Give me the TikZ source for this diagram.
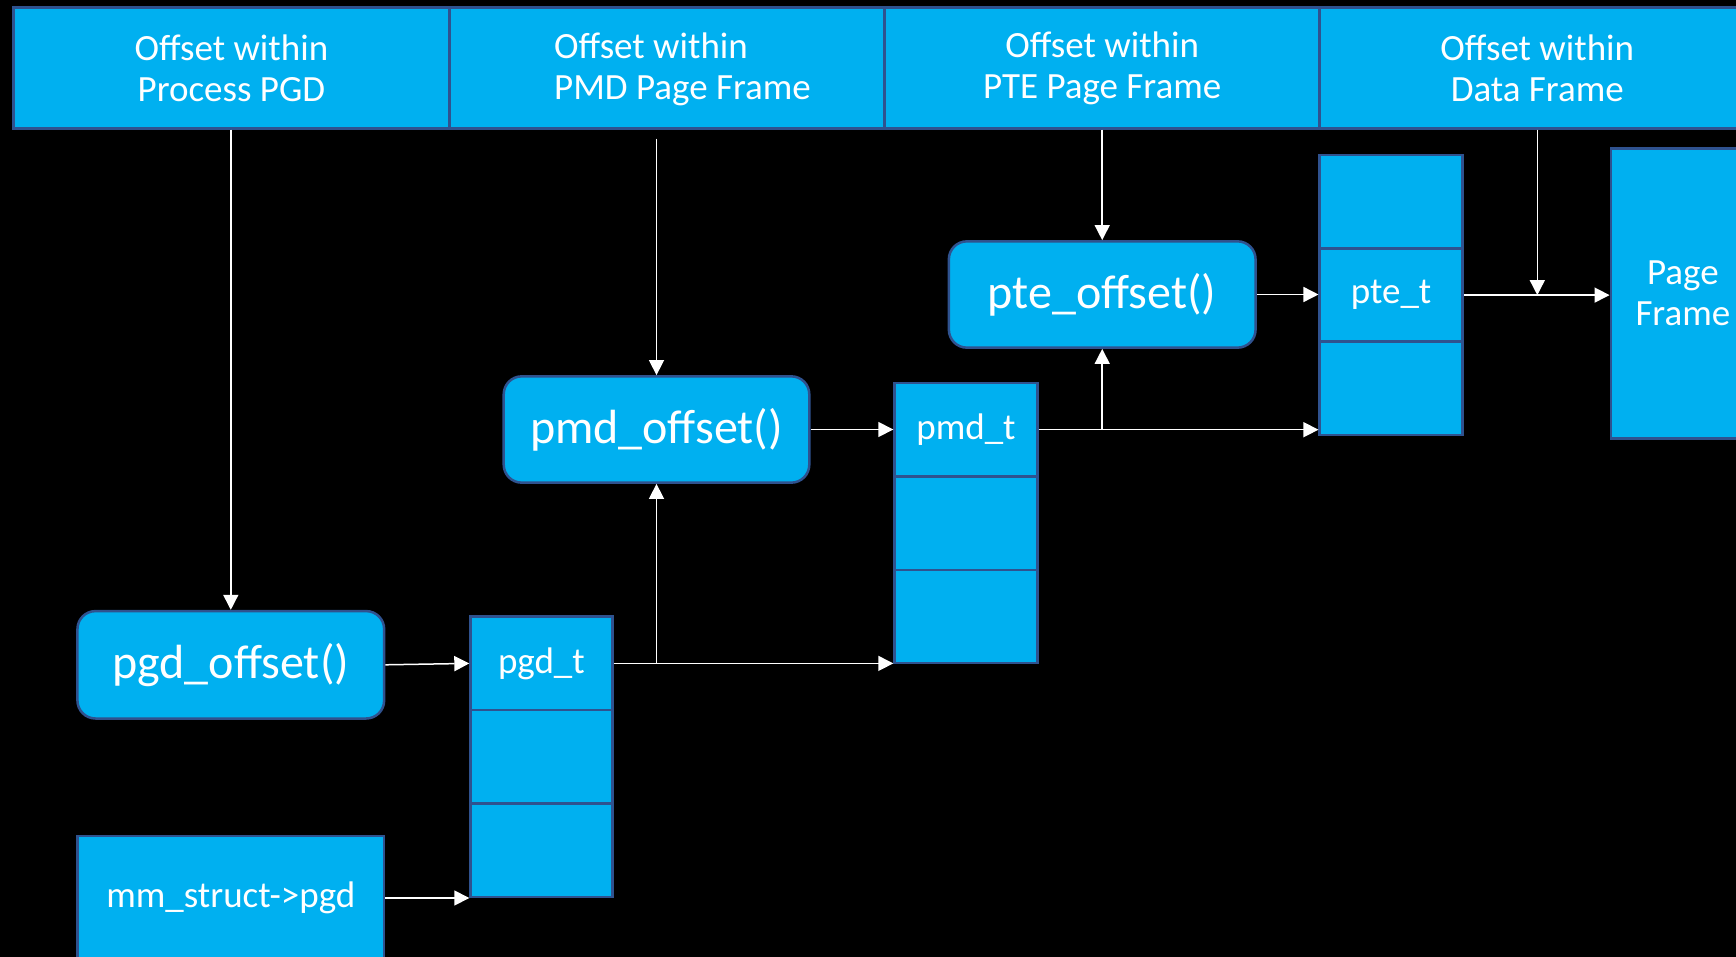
\documentclass[tikz,border=0pt]{standalone}
\usepackage{fontspec}
\setmainfont{Carlito}
\usetikzlibrary{arrows.meta}
\definecolor{cellblue}{HTML}{00B0F0}
\definecolor{edgeblue}{HTML}{2F528F}
\tikzset{
  cell/.style={draw=edgeblue, fill=cellblue, line width=2.5pt, text=white,
    inner sep=0pt, align=center, font=\fontsize{37}{41}\selectfont},
  func/.style={cell, rounded corners=18pt, font=\fontsize{48}{56}\selectfont},
  lbl/.style={text=white, inner sep=0pt, font=\fontsize{37}{41}\selectfont},
  conn/.style={draw=white, line width=1.5pt, -{Triangle[length=15pt,width=15pt]}}
}
\begin{document}
\begin{tikzpicture}[x=1pt, y=-1pt]
  \fill[black] (0,0) rectangle (1736,957);
  \useasboundingbox (0,0) rectangle (1736,957);
  \clip (0,0) rectangle (1736,957);

  % address fields
  \node[cell, minimum width=436.2pt, minimum height=120.6pt] (hdr1) at (231.4,68) {Offset within\\Process PGD};
  \node[cell, minimum width=435.1pt, minimum height=120.6pt] (hdr2) at (667,68) {};
  \node[lbl, align=left] (hdr2t) at (682.5,69) {Offset within\\PMD Page Frame};
  \node[cell, minimum width=435.1pt, minimum height=120.6pt] (hdr3) at (1102.2,68) {Offset within\\PTE Page Frame};
  \node[cell, minimum width=435.3pt, minimum height=120.6pt] (hdr4) at (1537.3,68) {Offset within\\Data Frame};

  % lookup functions
  \node[func, minimum width=306.7pt, minimum height=106.3pt] (pteoff) at (1102.2,294.5) {pte\_offset()};
  \node[func, minimum width=305.6pt, minimum height=106.3pt] (pmdoff) at (656.5,429.5) {pmd\_offset()};
  \node[func, minimum width=306.7pt, minimum height=107.4pt] (pgdoff) at (230.8,664.8) {pgd\_offset()};
  \node[cell, minimum width=306.7pt, minimum height=124pt] (mm) at (230.8,898) {mm\_struct->pgd};

  % pgd table
  \node[cell, minimum width=141.7pt, minimum height=93.4pt] (pgd1) at (541.4,663.4) {pgd\_t};
  \node[cell, minimum width=141.7pt, minimum height=93.4pt] (pgd2) at (541.4,756.7) {};
  \node[cell, minimum width=141.7pt, minimum height=93.4pt] (pgd3) at (541.4,850.1) {};

  % pmd table
  \node[cell, minimum width=142.9pt, minimum height=93.4pt] (pmd1) at (966,429.7) {pmd\_t};
  \node[cell, minimum width=142.9pt, minimum height=93.4pt] (pmd2) at (966,523.1) {};
  \node[cell, minimum width=142.9pt, minimum height=93.4pt] (pmd3) at (966,616.5) {};

  % pte table
  \node[cell, minimum width=142.8pt, minimum height=93.4pt] (pte1) at (1391.1,201.7) {};
  \node[cell, minimum width=142.8pt, minimum height=93.4pt] (pte2) at (1391.1,295.1) {pte\_t};
  \node[cell, minimum width=142.8pt, minimum height=93.4pt] (pte3) at (1391.1,388.4) {};

  % data page
  \node[cell, minimum width=144.2pt, minimum height=290pt] (pf) at (1682.9,293.4) {Page\\Frame};

  % offsets feeding the lookups
  \draw[conn] (pgdoff.north |- hdr1.south) -- (pgdoff.north);
  \draw[conn] ([yshift=-9pt]pmdoff.north |- hdr2.south) -- (pmdoff.north);
  \draw[conn] (pteoff.north |- hdr3.south) -- (pteoff.north);
  \draw[conn] (hdr4.south) -- (hdr4.south |- pte2.east);

  % walk through the tables
  \draw[conn] (mm.east) -- (mm.east -| pgd3.west);
  \draw[conn] (pgdoff.east) -- (pgd1.west);
  \draw[conn] (pgd1.east) -- (pgd1.east -| pmd3.west);
  \draw[conn] (pgd1.east -| pmdoff.south) -- (pmdoff.south);
  \draw[conn] (pmdoff.east) -- (pmdoff.east -| pmd1.west);
  \draw[conn] (pmd1.east) -- (pmd1.east -| pte3.west);
  \draw[conn] (pmd1.east -| pteoff.south) -- (pteoff.south);
  \draw[conn] (pteoff.east) -- (pteoff.east -| pte2.west);
  \draw[conn] (pte2.east) -- (pte2.east -| pf.west);
\end{tikzpicture}
\end{document}
